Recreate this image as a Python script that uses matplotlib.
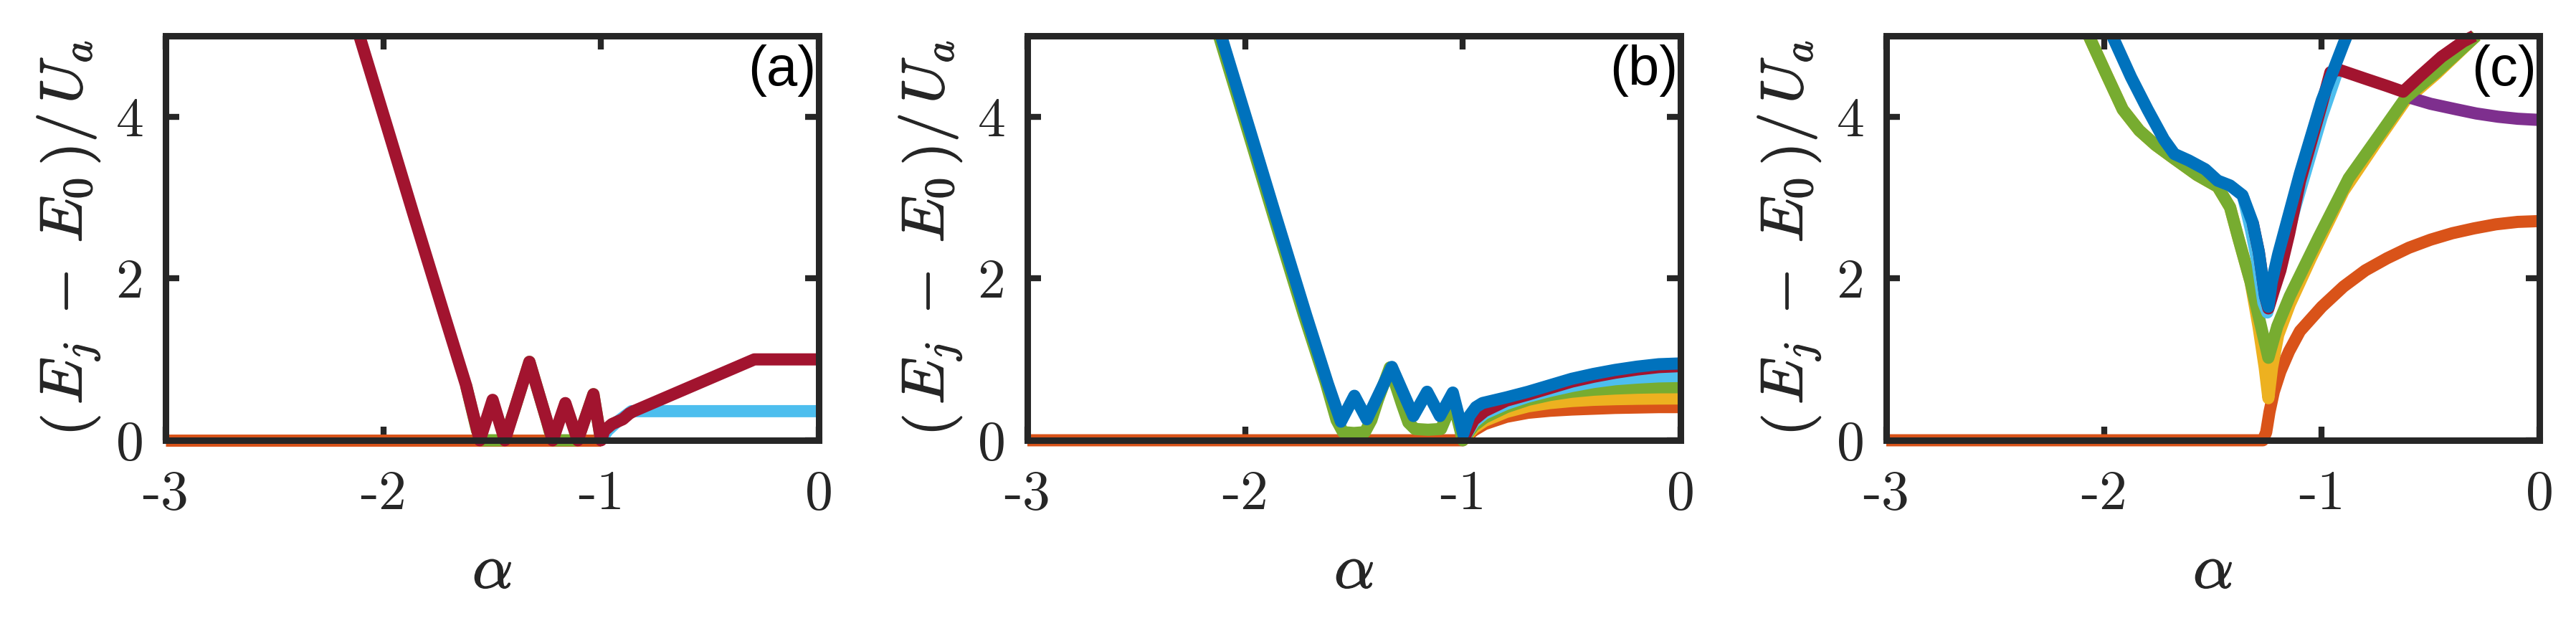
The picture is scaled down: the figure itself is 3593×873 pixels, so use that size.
import matplotlib
matplotlib.use("Agg")
import matplotlib.pyplot as plt
import matplotlib.patheffects as pe

plt.rcParams['mathtext.fontset'] = 'cm'
plt.rcParams['font.family'] = 'cmr10'
plt.rcParams['axes.unicode_minus'] = False

# MATLAB default colour order
BLUE = '#0072BD'
ORANGE = '#D95319'
YELLOW = '#EDB120'
PURPLE = '#7E2F8E'
GREEN = '#77AC30'
LBLUE = '#4DBEEE'
RED = '#A2142F'
AXCOL = '#262626'

# ---- panel (a) ----
a_orange_x = [-3.0, -1.0]
a_orange_y = [0.0, 0.0]
a_green_x = [-1.62, -1.57, -1.54, -1.46, -1.43, -1.40, -1.329, -1.25, -1.235, -1.21, -1.12, -1.095, -1.035, -1.0]
a_green_y = [0.68, 0.12, 0.0, 0.0, 0.12, 0.36, 0.97, 0.25, 0.1, 0.0, 0.0, 0.1, 0.57, 0.0]
a_lblue_x = [-1.0, -0.97, -0.93, -0.89, -0.86, 0.0]
a_lblue_y = [0.0, 0.12, 0.22, 0.30, 0.36, 0.36]
a_red_x = [-2.11, -1.98, -1.86, -1.72, -1.62, -1.557, -1.498, -1.442, -1.329, -1.222, -1.164,
           -1.107, -1.035, -1.0, -0.985, -0.95, -0.9, -0.87, -0.85, -0.296, 0.0]
a_red_y = [5.0, 3.85, 2.78, 1.55, 0.68, 0.0, 0.5, 0.0, 0.97, 0.0, 0.46,
           0.0, 0.57, 0.0, 0.12, 0.2, 0.26, 0.33, 0.36, 1.0, 1.0]

# ---- panel (b) ----
b_right_x = [-1.0, -0.95, -0.9, -0.8, -0.7, -0.6, -0.5, -0.4, -0.3, -0.2, -0.1, 0.0]
b_orange_x = [-3.0] + b_right_x
b_orange_y = [0.0, 0.0, 0.12, 0.2, 0.29, 0.34, 0.365, 0.38, 0.39, 0.40, 0.405, 0.41, 0.41]
b_yellow_y = [0.0, 0.15, 0.24, 0.35, 0.42, 0.46, 0.485, 0.5, 0.508, 0.513, 0.516, 0.517]
b_lblue_y = [0.0, 0.22, 0.33, 0.45, 0.54, 0.61, 0.67, 0.72, 0.755, 0.775, 0.79, 0.795]
b_red_y = [0.0, 0.25, 0.36, 0.49, 0.565, 0.645, 0.725, 0.785, 0.835, 0.875, 0.905, 0.917]
b_green_x = [-2.12, -1.99, -1.87, -1.73, -1.63, -1.58, -1.55, -1.5, -1.45, -1.42, -1.39, -1.335,
             -1.28, -1.25, -1.22, -1.16, -1.10, -1.075, -1.046, -1.0,
             -0.95, -0.9, -0.8, -0.7, -0.6, -0.5, -0.4, -0.3, -0.2, -0.1, 0.0]
b_green_y = [5.0, 3.85, 2.78, 1.55, 0.72, 0.25, 0.1, 0.09, 0.1, 0.25, 0.5, 0.9,
             0.45, 0.22, 0.14, 0.13, 0.14, 0.3, 0.5, 0.0,
             0.18, 0.28, 0.41, 0.50, 0.56, 0.60, 0.625, 0.64, 0.65, 0.655, 0.656]
b_blue_x = [-2.11, -1.98, -1.86, -1.72, -1.62, -1.56, -1.498, -1.441, -1.326, -1.227, -1.164,
            -1.105, -1.046, -0.998, -0.97, -0.94, -0.91, -0.8, -0.7, -0.6, -0.5, -0.4,
            -0.3, -0.2, -0.1, 0.0]
b_blue_y = [5.0, 3.85, 2.78, 1.55, 0.7, 0.23, 0.55, 0.26, 0.907, 0.30, 0.60,
            0.30, 0.59, 0.08, 0.3, 0.41, 0.46, 0.53, 0.6, 0.68, 0.76, 0.82,
            0.87, 0.91, 0.94, 0.95]

# ---- panel (c) ----
c_orange_x = [-3.0, -1.27, -1.255, -1.24, -1.22, -1.19, -1.15, -1.1, -1.0, -0.9, -0.8,
              -0.7, -0.6, -0.5, -0.4, -0.3, -0.2, -0.1, 0.0]
c_orange_y = [0.0, 0.0, 0.1, 0.35, 0.6, 0.85, 1.1, 1.35, 1.65, 1.9, 2.1,
              2.25, 2.38, 2.48, 2.56, 2.62, 2.67, 2.70, 2.71]
c_yellow_x = [-2.07, -1.99, -1.914, -1.838, -1.763, -1.687, -1.573, -1.478, -1.421, -1.384,
              -1.327, -1.29, -1.262, -1.245, -1.228, -1.2, -1.147, -1.05, -0.9, -0.75,
              -0.616, -0.474, -0.29]
c_yellow_y = [5.0, 4.53, 4.09, 3.83, 3.65, 3.50, 3.28, 3.135, 2.88, 2.51,
              1.96, 1.4, 0.9, 0.52, 0.9, 1.3, 1.68, 2.25, 3.08, 3.68,
              4.2, 4.53, 5.0]
c_purple_x = [-0.64, -0.588, -0.5, -0.379, -0.29, -0.19, -0.1, 0.0]
c_purple_y = [4.28, 4.23, 4.16, 4.09, 4.04, 4.0, 3.975, 3.96]
c_green_x = [-2.07, -1.99, -1.914, -1.838, -1.763, -1.687, -1.573, -1.478, -1.421, -1.384,
             -1.327, -1.279, -1.245, -1.204, -1.147, -1.014, -0.876, -0.739, -0.616,
             -0.474, -0.29]
c_green_y = [5.0, 4.53, 4.09, 3.83, 3.65, 3.50, 3.28, 3.135, 2.88, 2.51,
             1.96, 1.41, 1.02, 1.41, 1.78, 2.51, 3.24, 3.76, 4.23,
             4.55, 5.0]
c_lblue_x = [-1.36, -1.325, -1.295, -1.268, -1.25, -1.23, -1.19, -1.12, -1.0, -0.93]
c_lblue_y = [3.0, 2.6, 2.2, 1.7, 1.58, 1.85, 2.2, 2.9, 4.0, 4.55]
c_red_x = [-1.317, -1.289, -1.26, -1.245, -1.22, -1.19, -1.15, -1.1, -1.0, -0.96, -0.92,
           -0.8, -0.7, -0.626, -0.55, -0.45, -0.35, -0.30]
c_red_y = [2.69, 2.33, 1.78, 1.63, 1.85, 2.1, 2.55, 3.2, 4.15, 4.55, 4.58,
           4.47, 4.38, 4.31, 4.50, 4.74, 4.93, 5.0]
c_blue_x = [-1.962, -1.876, -1.8, -1.725, -1.677, -1.611, -1.535, -1.478, -1.421, -1.364,
            -1.317, -1.289, -1.26, -1.245, -1.23, -1.2, -1.15, -1.1, -1.0, -0.9, -0.885]
c_blue_y = [5.0, 4.49, 4.09, 3.72, 3.54, 3.46, 3.35, 3.21, 3.15, 3.03,
            2.69, 2.33, 1.78, 1.65, 1.95, 2.3, 2.8, 3.3, 4.2, 4.9, 5.0]

panels = [
    ('(a)', [(a_orange_x, a_orange_y, ORANGE),
             (a_green_x, a_green_y, GREEN),
             (a_lblue_x, a_lblue_y, LBLUE),
             (a_red_x, a_red_y, RED)]),
    ('(b)', [(b_orange_x, b_orange_y, ORANGE),
             (b_right_x, b_yellow_y, YELLOW),
             (b_green_x, b_green_y, GREEN),
             (b_right_x, b_lblue_y, LBLUE),
             (b_right_x, b_red_y, RED),
             (b_blue_x, b_blue_y, BLUE)]),
    ('(c)', [(c_orange_x, c_orange_y, ORANGE),
             (c_yellow_x, c_yellow_y, YELLOW),
             (c_purple_x, c_purple_y, PURPLE),
             (c_green_x, c_green_y, GREEN),
             (c_lblue_x, c_lblue_y, LBLUE),
             (c_red_x, c_red_y, RED),
             (c_blue_x, c_blue_y, BLUE)]),
]

W, H = 3593, 873
fig = plt.figure(figsize=(W / 100, H / 100), dpi=100)
lefts = [231, 1433, 2631]
LW = 12.2
bold = [pe.withStroke(linewidth=1.0, foreground=AXCOL)]

for left, (tag, series) in zip(lefts, panels):
    ax = fig.add_axes([left / W, 1 - 614 / H, 911 / W, 564 / H])
    for x, y, c in series:
        ax.plot(x, y, color=c, lw=LW, clip_on=False, solid_joinstyle='round',
                solid_capstyle='butt', zorder=2)
    ax.set_xlim(-3, 0)
    ax.set_ylim(0, 5)
    ax.set_xticks([-3, -2, -1, 0])
    ax.set_xticklabels(['-3', '-2', '-1', '0'])
    ax.set_yticks([0, 2, 4])
    ax.set_yticklabels(['0', '2', '4'])
    ax.tick_params(direction='in', length=14, width=6, top=True, right=True,
                   labelsize=56, colors=AXCOL)
    ax.tick_params(axis='x', pad=30)
    ax.tick_params(axis='y', pad=22)
    for sp in ax.spines.values():
        sp.set_linewidth(6.5)
        sp.set_color(AXCOL)
        sp.set_zorder(3)
    ax.set_xlabel(r'$\alpha$', fontsize=64, color=AXCOL, labelpad=24,
                  path_effects=bold)
    ax.set_ylabel(r'$\left(\,E_j\;-\;E_0\,\right)/\,U_a$', fontsize=60, color=AXCOL,
                  labelpad=14, path_effects=bold)
    ax.text(0.9956, 0.914, tag, transform=ax.transAxes, ha='right', va='center',
            fontsize=56, family='Liberation Sans', color='black')

fig.savefig('out.png', dpi=100)
